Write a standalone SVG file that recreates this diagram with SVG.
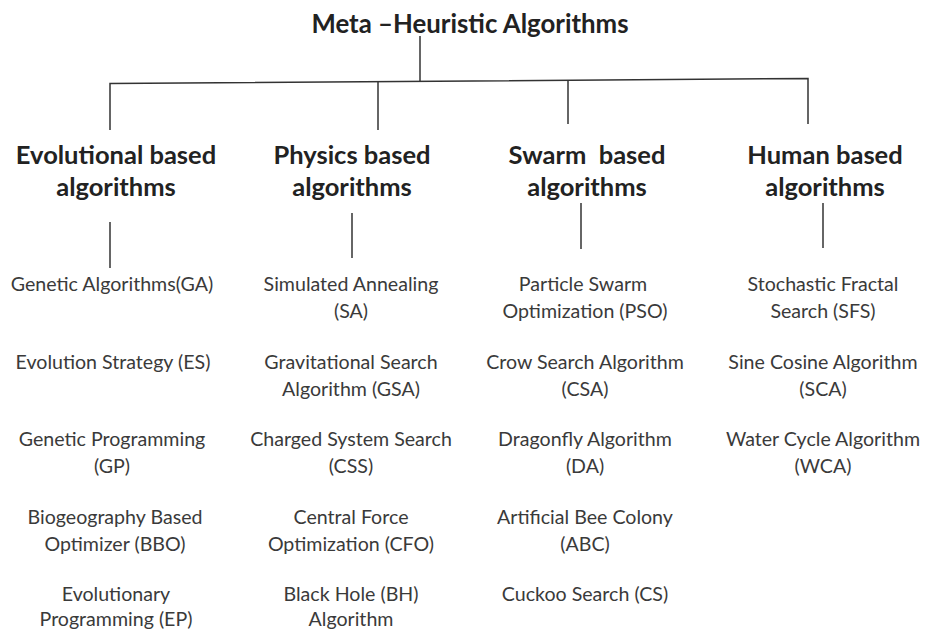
<svg xmlns="http://www.w3.org/2000/svg" width="926" height="629" viewBox="0 0 926 629">
  <style>
    .title { font-family: Lato, "Open Sans", "Liberation Sans", sans-serif; font-weight: bold; font-size: 25.8px; fill: #222; text-anchor: middle; }
    .head { font-family: Lato, "Open Sans", "Liberation Sans", sans-serif; font-weight: bold; font-size: 25.5px; fill: #222; text-anchor: middle; }
    .item { font-family: Lato, "Open Sans", "Liberation Sans", sans-serif; font-size: 19.6px; fill: #3a3a3a; text-anchor: middle; }
    .wire { stroke: #333; stroke-width: 1.5; fill: none; }
  </style>
  <rect width="926" height="629" fill="#ffffff"/>

  <!-- tree connectors -->
  <g id="connectors">
    <path class="wire" d="M420 36 V81"/>
    <path class="wire" d="M110 130 V83.5 L808 78.5 V124"/>
    <path class="wire" d="M378 82 V130"/>
    <path class="wire" d="M568 80 V124"/>
    <path class="wire" d="M110 222 V268"/>
    <path class="wire" d="M352 213 V258"/>
    <path class="wire" d="M581 203 V249"/>
    <path class="wire" d="M823 203 V248"/>
  </g>

  <g id="root">
    <text class="title" x="470" y="33">Meta –Heuristic Algorithms</text>
  </g>

  <g id="evolutional">
    <text class="head" x="116" y="164">Evolutional based</text>
    <text class="head" x="116" y="196">algorithms</text>
    <text class="item" x="112" y="291">Genetic Algorithms(GA)</text>
    <text class="item" x="113" y="369">Evolution Strategy (ES)</text>
    <text class="item" x="112" y="446">Genetic Programming</text>
    <text class="item" x="112" y="473">(GP)</text>
    <text class="item" x="115" y="524">Biogeography Based</text>
    <text class="item" x="115" y="551">Optimizer (BBO)</text>
    <text class="item" x="116" y="601">Evolutionary</text>
    <text class="item" x="116" y="626">Programming (EP)</text>
  </g>

  <g id="physics">
    <text class="head" x="352" y="164">Physics based</text>
    <text class="head" x="352" y="196">algorithms</text>
    <text class="item" x="351" y="291">Simulated Annealing</text>
    <text class="item" x="351" y="318">(SA)</text>
    <text class="item" x="351" y="369">Gravitational Search</text>
    <text class="item" x="351" y="396">Algorithm (GSA)</text>
    <text class="item" x="351" y="446">Charged System Search</text>
    <text class="item" x="351" y="473">(CSS)</text>
    <text class="item" x="351" y="524">Central Force</text>
    <text class="item" x="351" y="551">Optimization (CFO)</text>
    <text class="item" x="351" y="601">Black Hole (BH)</text>
    <text class="item" x="351" y="626">Algorithm</text>
  </g>

  <g id="swarm">
    <text class="head" x="587" y="164">Swarm&#160; based</text>
    <text class="head" x="587" y="196">algorithms</text>
    <text class="item" x="583" y="291">Particle Swarm</text>
    <text class="item" x="585" y="318">Optimization (PSO)</text>
    <text class="item" x="585" y="369">Crow Search Algorithm</text>
    <text class="item" x="585" y="396">(CSA)</text>
    <text class="item" x="585" y="446">Dragonfly Algorithm</text>
    <text class="item" x="585" y="473">(DA)</text>
    <text class="item" x="585" y="524">Artificial Bee Colony</text>
    <text class="item" x="585" y="551">(ABC)</text>
    <text class="item" x="585" y="601">Cuckoo Search (CS)</text>
  </g>

  <g id="human">
    <text class="head" x="825" y="164">Human based</text>
    <text class="head" x="825" y="196">algorithms</text>
    <text class="item" x="823" y="291">Stochastic Fractal</text>
    <text class="item" x="823" y="318">Search (SFS)</text>
    <text class="item" x="823" y="369">Sine Cosine Algorithm</text>
    <text class="item" x="823" y="396">(SCA)</text>
    <text class="item" x="823" y="446">Water Cycle Algorithm</text>
    <text class="item" x="823" y="473">(WCA)</text>
  </g>
</svg>
